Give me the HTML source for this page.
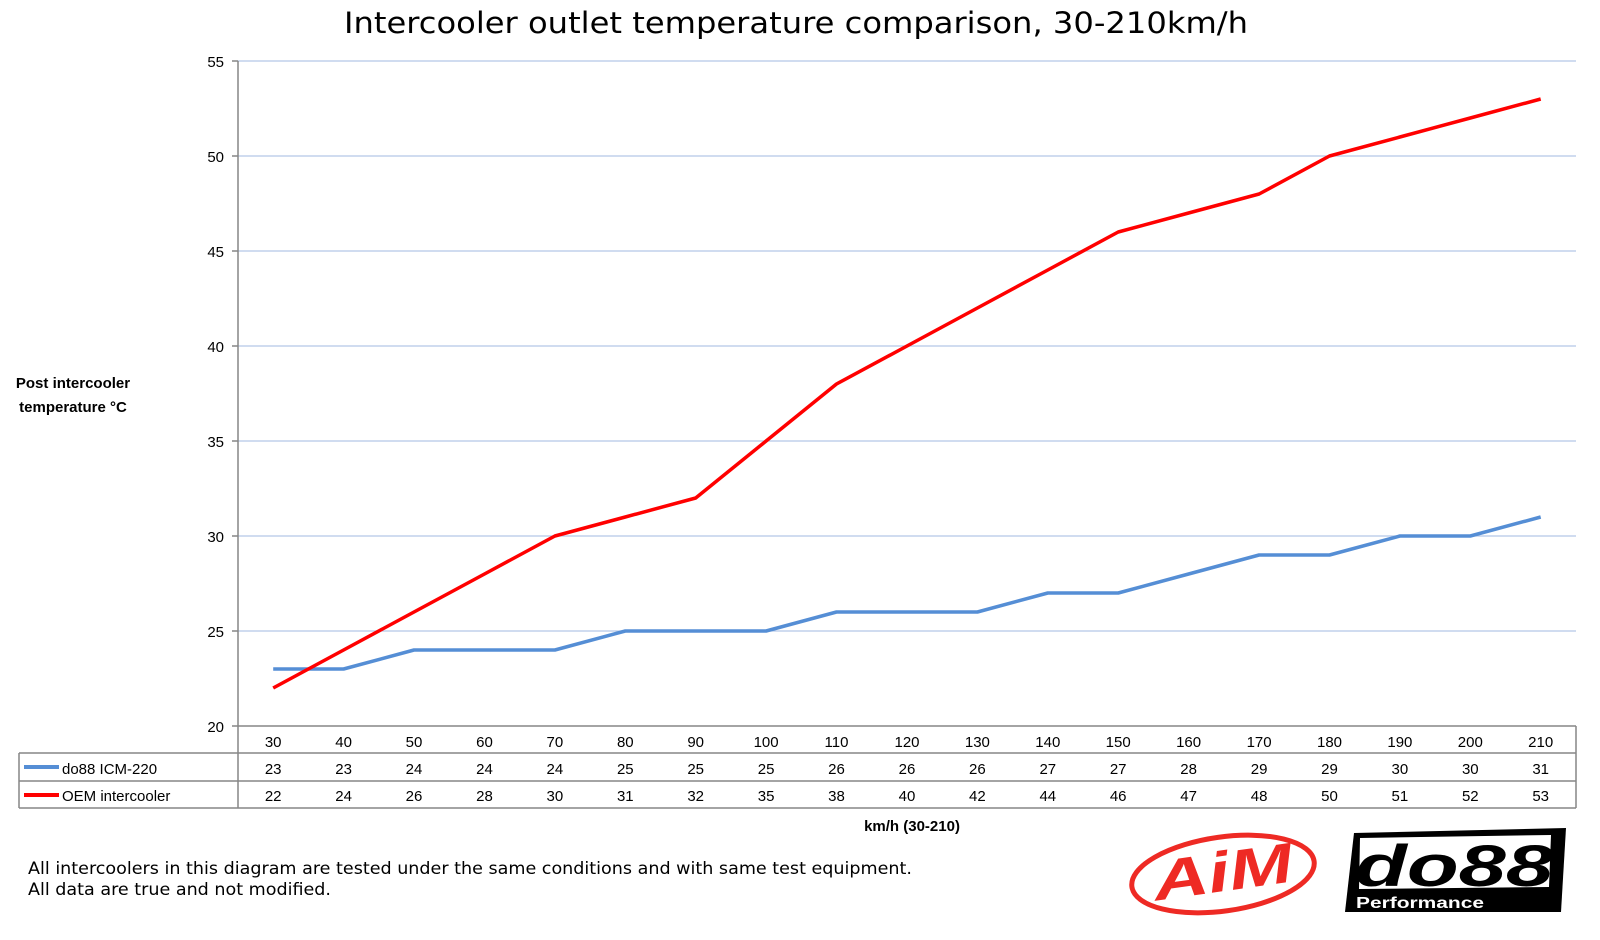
<!DOCTYPE html>
<html><head><meta charset="utf-8"><style>
html,body{margin:0;padding:0;background:#fff;}
svg{display:block;}
.c{font-family:"Liberation Sans",sans-serif;font-size:15px;fill:#000;}
.v{font-family:"DejaVu Sans","Liberation Sans",sans-serif;}
</style></head><body>
<svg width="1600" height="940" viewBox="0 0 1600 940" xmlns="http://www.w3.org/2000/svg">
<rect width="1600" height="940" fill="#fff"/>
<text class="v" x="796" y="33" font-size="29" text-anchor="middle" textLength="904" lengthAdjust="spacingAndGlyphs">Intercooler outlet temperature comparison, 30-210km/h</text>
<g stroke="#b4c7e7" stroke-width="1.3">
<line x1="238" y1="61" x2="1576" y2="61"/><line x1="238" y1="156" x2="1576" y2="156"/>
<line x1="238" y1="251" x2="1576" y2="251"/><line x1="238" y1="346" x2="1576" y2="346"/>
<line x1="238" y1="441" x2="1576" y2="441"/><line x1="238" y1="536" x2="1576" y2="536"/>
<line x1="238" y1="631" x2="1576" y2="631"/>
</g>
<g stroke="#868686" stroke-width="1.5" fill="none">
<line x1="238" y1="61" x2="238" y2="808"/>
<line x1="232" y1="726" x2="1576" y2="726"/>
<line x1="232" y1="61" x2="238" y2="61"/><line x1="232" y1="156" x2="238" y2="156"/><line x1="232" y1="251" x2="238" y2="251"/><line x1="232" y1="346" x2="238" y2="346"/><line x1="232" y1="441" x2="238" y2="441"/><line x1="232" y1="536" x2="238" y2="536"/><line x1="232" y1="631" x2="238" y2="631"/>
<line x1="1576" y1="726" x2="1576" y2="808"/>
<line x1="19" y1="753" x2="1576" y2="753"/>
<line x1="19" y1="781" x2="1576" y2="781"/>
<line x1="19" y1="808" x2="1576" y2="808"/>
<line x1="19" y1="753" x2="19" y2="808"/>
</g>
<g class="c" text-anchor="end">
<text x="224" y="67">55</text><text x="224" y="162">50</text><text x="224" y="257">45</text><text x="224" y="352">40</text><text x="224" y="447">35</text><text x="224" y="542">30</text><text x="224" y="637">25</text><text x="224" y="732">20</text>
</g>
<text class="c" x="73" y="388" font-weight="bold" font-size="14.5" text-anchor="middle">Post intercooler</text>
<text class="c" x="73" y="412" font-weight="bold" font-size="14.5" text-anchor="middle">temperature °C</text>
<polyline fill="none" stroke="#558ed5" stroke-width="3.5" stroke-linejoin="round" points="273.2,669 343.6,669 414,650 484.5,650 554.9,650 625.3,631 695.7,631 766.1,631 836.5,612 907,612 977.4,612 1047.8,593 1118.2,593 1188.6,574 1259.1,555 1329.5,555 1399.9,536 1470.3,536 1540.7,517"/>
<polyline fill="none" stroke="#ff0000" stroke-width="3.5" stroke-linejoin="round" points="273.2,688 343.6,650 414,612 484.5,574 554.9,536 625.3,517 695.7,498 766.1,441 836.5,384 907,346 977.4,308 1047.8,270 1118.2,232 1188.6,213 1259.1,194 1329.5,156 1399.9,137 1470.3,118 1540.7,99"/>
<g class="c" text-anchor="middle">
<text y="747"><tspan x="273.2">30</tspan><tspan x="343.6">40</tspan><tspan x="414">50</tspan><tspan x="484.5">60</tspan><tspan x="554.9">70</tspan><tspan x="625.3">80</tspan><tspan x="695.7">90</tspan><tspan x="766.1">100</tspan><tspan x="836.5">110</tspan><tspan x="907">120</tspan><tspan x="977.4">130</tspan><tspan x="1047.8">140</tspan><tspan x="1118.2">150</tspan><tspan x="1188.6">160</tspan><tspan x="1259.1">170</tspan><tspan x="1329.5">180</tspan><tspan x="1399.9">190</tspan><tspan x="1470.3">200</tspan><tspan x="1540.7">210</tspan></text>
<text y="774"><tspan x="273.2">23</tspan><tspan x="343.6">23</tspan><tspan x="414">24</tspan><tspan x="484.5">24</tspan><tspan x="554.9">24</tspan><tspan x="625.3">25</tspan><tspan x="695.7">25</tspan><tspan x="766.1">25</tspan><tspan x="836.5">26</tspan><tspan x="907">26</tspan><tspan x="977.4">26</tspan><tspan x="1047.8">27</tspan><tspan x="1118.2">27</tspan><tspan x="1188.6">28</tspan><tspan x="1259.1">29</tspan><tspan x="1329.5">29</tspan><tspan x="1399.9">30</tspan><tspan x="1470.3">30</tspan><tspan x="1540.7">31</tspan></text>
<text y="801"><tspan x="273.2">22</tspan><tspan x="343.6">24</tspan><tspan x="414">26</tspan><tspan x="484.5">28</tspan><tspan x="554.9">30</tspan><tspan x="625.3">31</tspan><tspan x="695.7">32</tspan><tspan x="766.1">35</tspan><tspan x="836.5">38</tspan><tspan x="907">40</tspan><tspan x="977.4">42</tspan><tspan x="1047.8">44</tspan><tspan x="1118.2">46</tspan><tspan x="1188.6">47</tspan><tspan x="1259.1">48</tspan><tspan x="1329.5">50</tspan><tspan x="1399.9">51</tspan><tspan x="1470.3">52</tspan><tspan x="1540.7">53</tspan></text>
</g>
<line x1="24" y1="767" x2="59" y2="767" stroke="#558ed5" stroke-width="4"/>
<line x1="24" y1="795" x2="59" y2="795" stroke="#ff0000" stroke-width="4"/>
<text class="c" x="62" y="774">do88 ICM-220</text>
<text class="c" x="62" y="801">OEM intercooler</text>
<text class="c" x="912" y="831" font-weight="bold" font-size="14.5" text-anchor="middle">km/h (30-210)</text>
<text class="v" x="28" y="874" font-size="16.5" textLength="884" lengthAdjust="spacingAndGlyphs">All intercoolers in this diagram are tested under the same conditions and with same test equipment.</text>
<text class="v" x="28" y="895" font-size="16.5" textLength="303" lengthAdjust="spacingAndGlyphs">All data are true and not modified.</text>
<g transform="translate(1223,874) rotate(-8)">
<ellipse cx="0" cy="0" rx="92" ry="37" fill="none" stroke="#ee2a24" stroke-width="5"/>
<text x="0" y="17" font-family="Liberation Sans,sans-serif" font-weight="bold" font-style="italic" font-size="56" fill="#ee2a24" text-anchor="middle" textLength="140" lengthAdjust="spacingAndGlyphs">AiM</text>
</g>
<polygon points="1354,833 1566,828 1561,912 1345,912" fill="#000"/>
<polygon points="1360,838 1551,835 1549,887 1359,889" fill="#fff"/>
<text x="1355" y="886" font-family="Liberation Sans,sans-serif" font-weight="bold" font-style="italic" font-size="58" fill="#000" textLength="198" lengthAdjust="spacingAndGlyphs">do88</text>
<text x="1356" y="908" font-family="Liberation Sans,sans-serif" font-weight="bold" font-size="16" fill="#fff" textLength="128" lengthAdjust="spacingAndGlyphs">Performance</text>
</svg>
</body></html>
